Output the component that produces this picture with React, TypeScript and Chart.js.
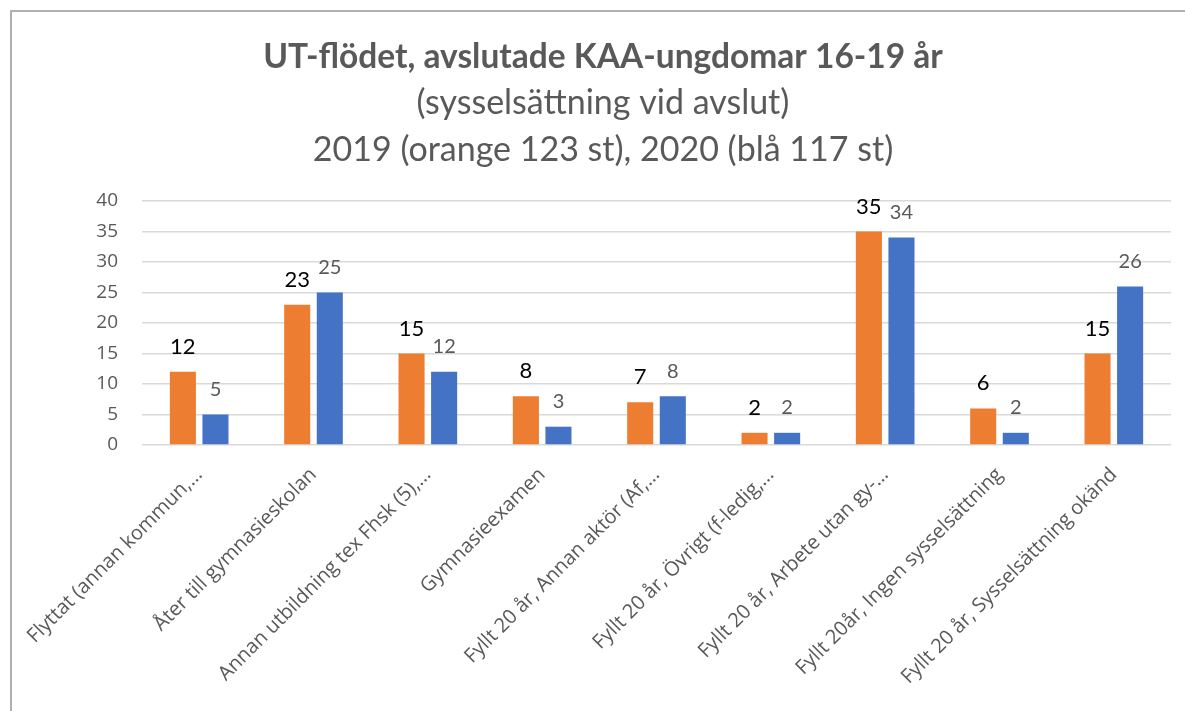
import { useEffect, useRef } from "react";
import { Chart, registerables } from "chart.js";

Chart.register(...registerables);

const categories = [
  "Flyttat (annan kommun,…",
  "Åter till gymnasieskolan",
  "Annan utbildning tex Fhsk (5),…",
  "Gymnasieexamen",
  "Fyllt 20 år, Annan aktör (Af,…",
  "Fyllt 20 år, Övrigt (f-ledig,…",
  "Fyllt 20 år, Arbete utan gy-…",
  "Fyllt 20år, Ingen sysselsättning",
  "Fyllt 20 år, Sysselsättning okänd",
];
const values2019 = [12, 23, 15, 8, 7, 2, 35, 6, 15];
const values2020 = [5, 25, 12, 3, 8, 2, 34, 2, 26];
const yMin = 0;
const yMax = 40;
const yStep = 5;

const titleText = "UT-flödet, avslutade KAA-ungdomar 16-19 år";
const subtitleLines = ["(sysselsättning vid avslut)", "2019 (orange 123 st), 2020 (blå 117 st)"];

const ORANGE = "#ED7D31";
const BLUE = "#4472C4";
const GRAY = "#595959";

const valueLabels = {
  id: "valueLabels",
  afterDatasetsDraw(chart: any) {
    const ctx = chart.ctx;
    chart.data.datasets.forEach((ds: any, i: number) => {
      const meta = chart.getDatasetMeta(i);
      meta.data.forEach((bar: any, j: number) => {
        ctx.save();
        ctx.font = i === 0 ? "22px Lato" : "20px Lato";
        ctx.fillStyle = i === 0 ? "#000000" : GRAY;
        ctx.textAlign = "center";
        ctx.textBaseline = "middle";
        ctx.fillText(String(ds.data[j]), bar.x, bar.y - 25);
        ctx.restore();
      });
    });
  },
};

export default function App() {
  const ref = useRef<HTMLCanvasElement | null>(null);
  useEffect(() => {
    if (!ref.current) return;
    const chart = new Chart(ref.current, {
      type: "bar",
      data: {
        labels: categories,
        datasets: [
          { label: "2019", data: values2019, backgroundColor: ORANGE, categoryPercentage: 0.57, barPercentage: 0.8 },
          { label: "2020", data: values2020, backgroundColor: BLUE, categoryPercentage: 0.57, barPercentage: 0.8 },
        ],
      },
      options: {
        responsive: false,
        animation: false,
        layout: { padding: { left: 24, right: 25, top: 0, bottom: 0 } },
        plugins: {
          legend: { display: false },
          tooltip: { enabled: false },
          title: {
            display: true,
            text: titleText,
            color: GRAY,
            font: { family: "Lato", size: 33.5, weight: "bold", lineHeight: 1.2 },
            padding: { top: 26, bottom: 2.3 },
          },
          subtitle: {
            display: true,
            text: subtitleLines,
            color: GRAY,
            font: { family: "Lato", size: 34, lineHeight: 47 / 34 },
            padding: { top: 0, bottom: 27.5 },
          },
        },
        scales: {
          x: {
            grid: { display: false },
            border: { display: false },
            ticks: {
              color: GRAY,
              font: { family: "Open Sans", size: 20 },
              minRotation: 45,
              maxRotation: 45,
              autoSkip: false,
              padding: 10,
            },
            afterFit(scale: any) {
              scale.height = 266;
              scale.paddingLeft = 0;
              scale.paddingRight = 0;
            },
          },
          y: {
            min: yMin,
            max: yMax,
            ticks: {
              stepSize: yStep,
              color: GRAY,
              font: { family: "Open Sans", size: 19 },
              padding: 24,
            },
            grid: { color: "#d9d9d9", lineWidth: 1.5, drawTicks: false },
            border: { display: false },
            afterFit(scale: any) {
              scale.width = 107;
            },
          },
        },
      },
      plugins: [valueLabels],
    });
    return () => chart.destroy();
  }, []);

  return (
    <div style={{ position: "fixed", inset: 0, overflow: "hidden", background: "#fff" }}>
      <div
        style={{
          position: "absolute",
          left: 10,
          top: 10,
          width: 1400,
          height: 1000,
          border: "2px solid #b0b0b0",
        }}
      />
      <canvas
        ref={ref}
        width={1185}
        height={700}
        style={{ position: "absolute", left: 11, top: 11, width: 1185, height: 700 }}
      />
    </div>
  );
}
